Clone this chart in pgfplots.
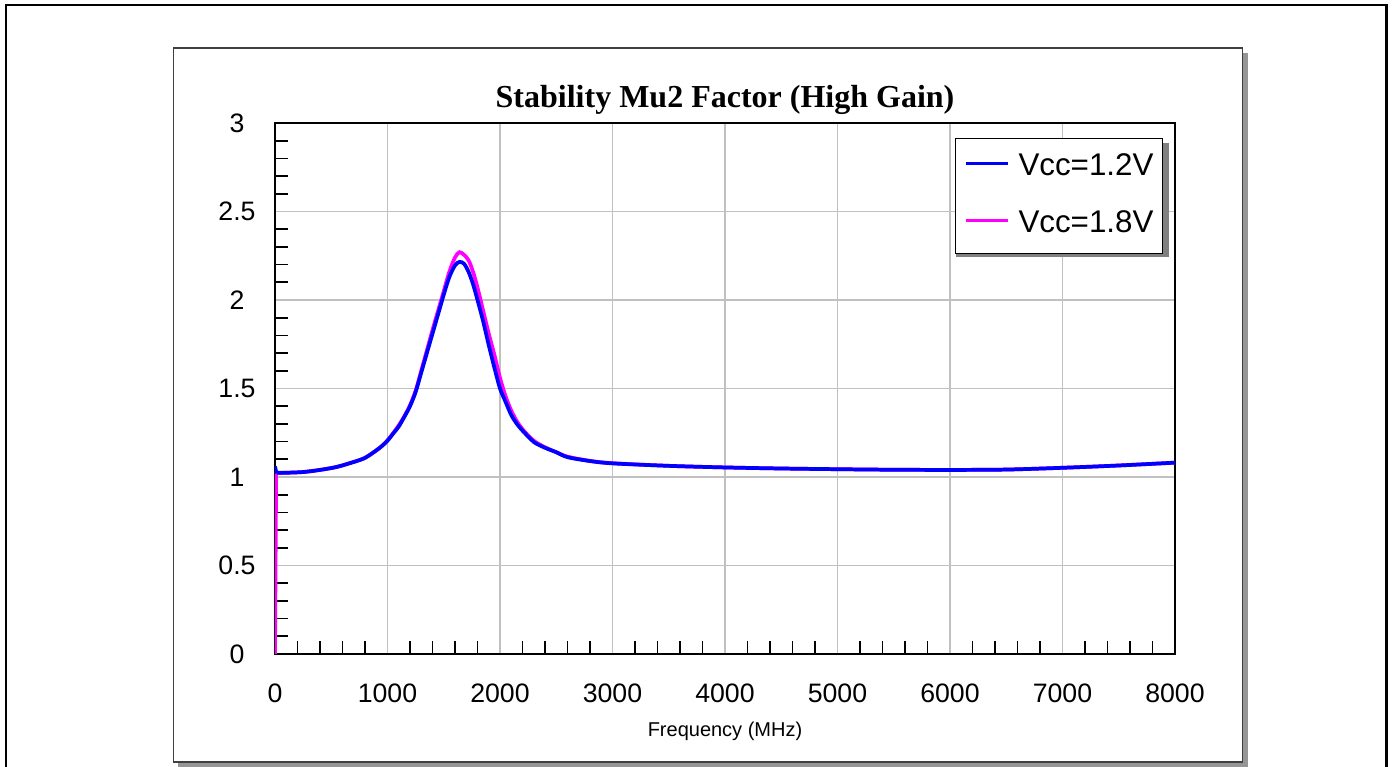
\documentclass[border=0pt]{standalone}
\usepackage{fontspec}
\setmainfont{Liberation Sans}
\newfontfamily\titlefont{Liberation Serif}
\usepackage{pgfplots}
\pgfplotsset{compat=1.18}
\usetikzlibrary{backgrounds}

\definecolor{gridgray}{RGB}{192,192,192}
\definecolor{panelshadow}{RGB}{150,150,150}
\definecolor{vblue}{RGB}{0,0,255}
\definecolor{vmag}{RGB}{255,0,255}

\begin{document}
\begin{tikzpicture}[x=0.75pt,y=0.75pt]
\begin{axis}[
  name=ax, at={(0,0)}, anchor=south west,
  scale only axis, width=675pt, height=398.25pt,
  xmin=0, xmax=8000, ymin=0, ymax=3,
  xtick={0,1000,...,8000},
  ytick={0,0.5,1,1.5,2,2.5,3},
  minor x tick num=4, minor y tick num=4,
  xtick pos=bottom, ytick pos=left,
  tick align=inside,
  major tick length=0pt, minor tick length=9.5pt,
  minor tick style={line width=1.3pt, black},
  grid=major,
  major grid style={gridgray, line width=1.3pt},
  axis line style={line width=1.3pt, black},
  tick label style={font=\fontsize{20}{24}\selectfont},
  /pgf/number format/assume math mode=true,
  /pgf/number format/1000 sep={},
  scaled ticks=false,
  xticklabel style={anchor=center, yshift=-29.25pt},
  yticklabel style={anchor=center, xshift=-28.5pt},
  xlabel={Frequency (MHz)},
  xlabel style={font=\fontsize{15}{18}\selectfont, at={(0.5,0)}, anchor=center, yshift=-57.75pt},
  reverse legend,
  legend style={at={(0.9867,0.9718)}, anchor=north east, draw=black, line width=0.8pt,
    fill=white, font=\fontsize{23.5}{28}\selectfont,
    inner xsep=6.75pt, inner ysep=10.75pt, row sep=20.75pt, column sep=6.75pt,
    nodes={inner sep=0pt, text height=17pt, text depth=5pt},
    cells={anchor=west}},
  legend image code/.code={\draw[#1, line width=2pt] (0pt,3pt) -- (31.5pt,3pt);},
]
% legend shadow (legend box itself is drawn last, on top)
\fill[black!50] (axis description cs:0.7567,0.7476) rectangle (axis description cs:0.9933,0.9623);
% Vcc = 1.8 V
\addplot[vmag, line width=2.8pt, forget plot] coordinates {(0,0) (10,1.02) (20,1.022)};
\addplot[vmag, line width=2.8pt, smooth, tension=0.5] coordinates {
  (20,1.022) (100,1.024) (250,1.028) (400,1.04) (550,1.057)
  (700,1.085) (800,1.108) (900,1.15) (950,1.175) (1000,1.207) (1050,1.247)
  (1100,1.292) (1150,1.343) (1200,1.405) (1250,1.487) (1300,1.6) (1350,1.715)
  (1400,1.83) (1450,1.94) (1500,2.05) (1550,2.16) (1600,2.24) (1640,2.27)
  (1680,2.255) (1720,2.225) (1760,2.16) (1800,2.07) (1850,1.94) (1900,1.81)
  (1950,1.69) (2000,1.56) (2050,1.455) (2100,1.375) (2150,1.315) (2200,1.27)
  (2300,1.205) (2400,1.168) (2500,1.14) (2600,1.115) (2800,1.091) (3000,1.078)
  (3500,1.063) (4000,1.054) (4500,1.048) (5000,1.044) (5500,1.041) (6000,1.04)
  (6500,1.042) (7000,1.052) (7500,1.065) (8000,1.081)
};
\addlegendentry{Vcc=1.8V}
% Vcc = 1.2 V
\addplot[vblue, line width=2.8pt, forget plot] coordinates {(0,1.06) (10,1.03) (20,1.024)};
\addplot[vblue, line width=2.8pt, smooth, tension=0.5] coordinates {
  (20,1.024) (100,1.024) (250,1.028) (400,1.04) (550,1.057)
  (700,1.085) (800,1.108) (900,1.15) (950,1.175) (1000,1.205) (1050,1.245)
  (1100,1.285) (1150,1.34) (1200,1.40) (1250,1.48) (1300,1.59) (1350,1.70)
  (1400,1.81) (1450,1.92) (1500,2.03) (1550,2.13) (1600,2.195) (1640,2.215)
  (1680,2.205) (1720,2.16) (1760,2.09) (1800,2.0) (1850,1.88) (1900,1.745)
  (1950,1.618) (2000,1.50) (2050,1.424) (2100,1.35) (2150,1.30) (2200,1.262)
  (2300,1.198) (2400,1.165) (2500,1.14) (2600,1.112) (2800,1.09) (3000,1.077)
  (3500,1.063) (4000,1.054) (4500,1.048) (5000,1.044) (5500,1.041) (6000,1.04)
  (6500,1.042) (7000,1.052) (7500,1.065) (8000,1.081)
};
\addlegendentry{Vcc=1.2V}
\end{axis}
% frame, panel and title, in pixel coordinates of the reference (y up)
\begin{scope}[shift={(ax.south west)}, xshift=-206.25pt, yshift=-84.75pt]
  \pgfresetboundingbox
  \path[use as bounding box] (0,0) rectangle (1393,767);
  \begin{scope}[on background layer]
    \draw[line width=1.6pt] (6,-10) -- (6,762) -- (1386.5,762) -- (1386.5,-10);
    \fill[panelshadow] (178,-10) rectangle (1247.5,714);
    \draw[black!75, fill=white, line width=0.8pt] (173.5,5) rectangle (1242.5,719);
  \end{scope}
  \node[font=\titlefont\bfseries\fontsize{24}{28}\selectfont] at (725,667) {Stability Mu2 Factor (High Gain)};
\end{scope}
\end{tikzpicture}
\end{document}
